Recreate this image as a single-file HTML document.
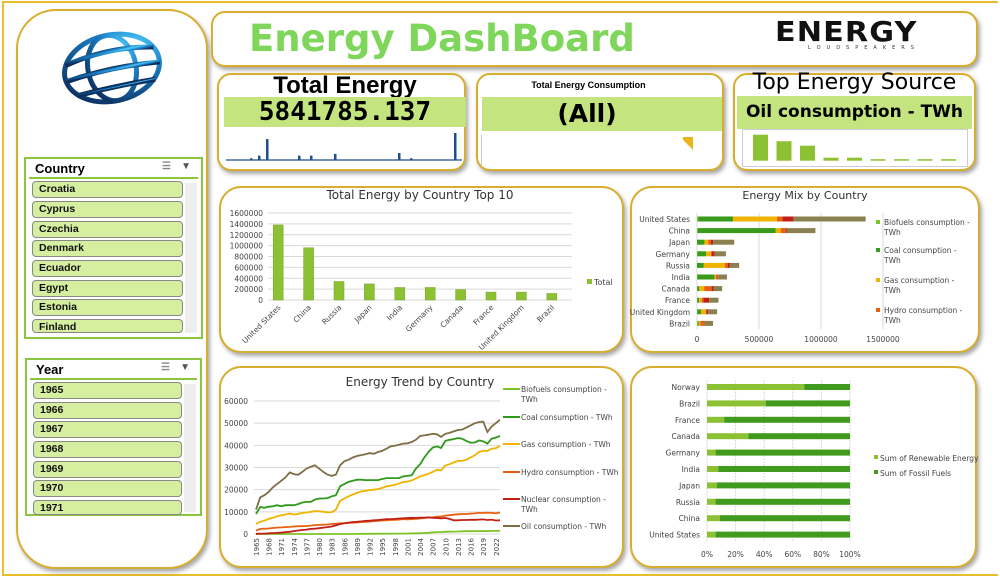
<!DOCTYPE html>
<html><head><meta charset="utf-8">
<style>
*{box-sizing:border-box;margin:0;padding:0}
body{width:1000px;height:577px;overflow:hidden;background:#fff;font-family:"Liberation Sans","DejaVu Sans",sans-serif;position:relative}
.frame{position:absolute;left:2px;top:1px;width:996px;height:575px;border:2px solid #e8be2a;border-right:none}
.box{position:absolute;border:2px solid #d9ad2e;background:#fff;box-shadow:2px 3px 4px rgba(0,0,0,.35)}
.slicer{position:absolute;border:2px solid #8cc63f;background:#fff}
.sl-head{font:bold 13px "Liberation Sans",sans-serif;padding:2px 6px;border-bottom:2px solid #8cc63f;margin:0 3px;height:20px}
.item{position:absolute;left:6px;width:151px;height:17px;background:#d6eea0;border:1.5px solid #888;border-radius:4px;font:bold 10.5px "Liberation Sans",sans-serif;padding:1px 6px;color:#111}
.scroll{position:absolute;right:4px;top:24px;width:12px;background:#eee}
.gbar{position:absolute;background:#c3e47e}
#ch{position:absolute;left:0;top:0}
</style></head><body>
<div class="frame"></div>

<div class="box" style="left:16px;top:9px;width:192px;height:560px;border-radius:40px"></div>
<svg style="position:absolute;left:55px;top:28px" width="115" height="82">
<defs><radialGradient id="gg" cx="0.75" cy="0.25" r="0.9"><stop offset="0" stop-color="#4fd0ff"/><stop offset="0.5" stop-color="#1a7ac0"/><stop offset="1" stop-color="#0c2f5e"/></radialGradient></defs>
<g fill="none" stroke="url(#gg)" stroke-width="5" transform="rotate(-12 57 40)">
<ellipse cx="57" cy="40" rx="48" ry="33"/>
<ellipse cx="57" cy="40" rx="24" ry="33"/>
<line x1="57" y1="7" x2="57" y2="73"/>
<path d="M12 28 Q57 18 102 28"/><path d="M9 44 Q57 38 105 44"/><path d="M17 60 Q57 58 97 60"/>
</g></svg>

<div class="slicer" style="left:24px;top:157px;width:179px;height:182px">
<div class="sl-head">Country<span style="position:absolute;right:30px;color:#888;font-size:10px">☰</span><span style="position:absolute;right:10px;color:#555;font-size:10px">▼</span></div>
<div class="item" style="top:22px">Croatia</div>
<div class="item" style="top:42px">Cyprus</div>
<div class="item" style="top:62px">Czechia</div>
<div class="item" style="top:81px">Denmark</div>
<div class="item" style="top:101px">Ecuador</div>
<div class="item" style="top:121px">Egypt</div>
<div class="item" style="top:140px">Estonia</div>
<div class="item" style="top:160px;height:14px">Finland</div>
<div class="scroll" style="height:150px"></div>
</div>

<div class="slicer" style="left:25px;top:358px;width:177px;height:158px">
<div class="sl-head">Year<span style="position:absolute;right:30px;color:#888;font-size:10px">☰</span><span style="position:absolute;right:10px;color:#555;font-size:10px">▼</span></div>
<div class="item" style="top:22px;width:149px">1965</div>
<div class="item" style="top:42px;width:149px">1966</div>
<div class="item" style="top:61px;width:149px">1967</div>
<div class="item" style="top:81px;width:149px">1968</div>
<div class="item" style="top:101px;width:149px">1969</div>
<div class="item" style="top:120px;width:149px">1970</div>
<div class="item" style="top:140px;width:149px;height:15px">1971</div>
<div class="scroll" style="height:128px"></div>
</div>

<div class="box" style="left:211px;top:11px;width:767px;height:56px;border-radius:14px"></div>
<div style="position:absolute;left:249px;top:17px;font:bold 37px 'DejaVu Sans',sans-serif;color:#7ed65a">Energy DashBoard</div>
<div style="position:absolute;left:775px;top:15px;font:900 28px 'DejaVu Sans',sans-serif;color:#111;letter-spacing:1px;transform:scaleX(1.08);transform-origin:left">ENERGY</div>
<div style="position:absolute;left:808px;top:45px;font:5px 'DejaVu Sans',sans-serif;color:#333;letter-spacing:6px">LOUDSPEAKERS</div>

<div class="box" style="left:217px;top:73px;width:249px;height:98px;border-radius:14px"></div>
<div style="position:absolute;left:217px;top:72px;width:256px;text-align:center;font:bold 24px 'Liberation Sans',sans-serif">Total Energy</div>
<div class="gbar" style="left:224px;top:97px;width:242px;height:30px;text-align:center;font:bold 26px 'DejaVu Sans Mono','Liberation Mono',monospace;line-height:31px">5841785.137</div>

<div class="box" style="left:476px;top:73px;width:248px;height:98px;border-radius:14px"></div>
<div style="position:absolute;left:476px;top:80px;width:225px;text-align:center;font:bold 9px 'Liberation Sans',sans-serif">Total Energy Consumption</div>
<div class="gbar" style="left:482px;top:97px;width:240px;height:34px;text-align:center;font:bold 25px 'DejaVu Sans',sans-serif;line-height:34px;padding-right:30px">(All)</div>
<div style="position:absolute;left:481px;top:135px;width:1px;height:30px;background:#ccc"></div>
<div style="position:absolute;left:683px;top:137px;width:10px;height:16px;background:linear-gradient(45deg,#fff 50%,#e8b51a 50%)"></div>

<div class="box" style="left:733px;top:73px;width:243px;height:98px;border-radius:14px"></div>
<div style="position:absolute;left:733px;top:70px;width:243px;text-align:center;font:22px 'DejaVu Sans',sans-serif">Top Energy Source</div>
<div class="gbar" style="left:737px;top:96px;width:235px;height:33px;text-align:center;font:bold 17px 'DejaVu Sans',sans-serif;line-height:33px">Oil consumption - TWh</div>
<div style="position:absolute;left:742px;top:129px;width:226px;height:38px;border:1px solid #ccd"></div>

<div class="box" style="left:219px;top:186px;width:405px;height:167px;border-radius:22px"></div>
<div class="box" style="left:630px;top:186px;width:350px;height:167px;border-radius:22px"></div>
<div class="box" style="left:219px;top:366px;width:405px;height:202px;border-radius:22px"></div>
<div class="box" style="left:630px;top:366px;width:347px;height:202px;border-radius:22px"></div>

<svg id="ch" width="1000" height="577"></svg>

<script>
// ---- data ----
const sparkValues=[0,0,0,0,0,0,2,0,5,0,24,0,0,0,0,0,0,0,5,0,0,5,0,0,0,0,0,7,0,0,0,0,0,0,0,0,0,0,0,0,0,0,0,8,0,0,2,0,0,0,0,0,0,0,0,0,0,31,0,0];
const topSourceValues=[26,19.5,15,3,3,1.5,1.5,1.5,1.5];
const top10Countries=["United States","China","Russia","Japan","India","Germany","Canada","France","United Kingdom","Brazil"];
const top10Totals=[1380000,960000,340000,295000,230000,230000,190000,145000,145000,120000];
const top10Ticks=[0,200000,400000,600000,800000,1000000,1200000,1400000,1600000];
const mixCountries=["United States","China","Japan","Germany","Russia","India","Canada","France","United Kingdom","Brazil"];
const mixBiofuels=[10000,5000,0,3000,0,2000,3000,3000,2000,12000];
const mixCoal=[280000,630000,60000,70000,55000,140000,15000,15000,30000,5000];
const mixGas=[355000,40000,30000,40000,170000,10000,40000,20000,40000,10000];
const mixHydro=[45000,40000,20000,5000,25000,15000,60000,15000,3000,35000];
const mixNuclear=[90000,10000,20000,25000,15000,5000,15000,45000,15000,2000];
const mixOil=[580000,230000,170000,90000,75000,70000,70000,75000,72000,65000];
const mixTicks=[0,500000,1000000,1500000];
const trendYears=[];for(let y=1965;y<=2023;y++)trendYears.push(y);
const trendOil=[11000,16500,17500,19000,21000,22500,24000,25500,27800,27000,26700,28000,29500,30300,31000,29500,28000,26800,26200,26800,31000,32800,33500,34500,35200,35600,36000,36500,36200,37000,37500,38500,39500,39800,40300,40800,40900,41500,42500,44200,44500,44800,45200,45000,43800,45200,45600,46300,46900,47100,48000,49000,50000,50500,50700,46000,48500,50000,51500];
const trendCoal=[9000,12200,11800,12300,12500,13000,12500,13000,13000,13000,13500,14200,14500,14500,15500,16000,16000,16200,17000,17500,21500,22500,23500,24000,24500,24500,24300,24300,24300,24300,24800,25200,25200,25200,25200,26000,26200,26500,29500,31500,34500,37000,39000,39500,38800,42000,42500,42800,43300,43000,42000,41200,41300,42200,41800,40800,43000,43500,44200];
const trendGas=[4500,5500,6000,6800,7300,8000,8500,8800,9200,8800,9000,9500,9700,10000,10300,10300,10000,9800,9900,11000,15000,16000,17000,17800,18500,19200,19500,19800,20000,20300,20800,21500,21800,22200,22800,23500,23600,24200,25000,26000,26500,27200,28000,29000,28700,30800,31500,32300,33000,33000,33500,34500,35500,37000,37500,37500,38500,38700,39800];
const trendHydro=[1500,2300,2400,2500,2700,2900,3000,3100,3200,3400,3500,3500,3600,3800,4000,4100,4200,4300,4500,4600,4800,4900,5000,5100,5200,5400,5500,5600,5800,5900,6100,6200,6300,6400,6500,6700,6600,6700,6800,7000,7200,7400,7500,7800,7900,8300,8500,8700,8900,9000,9000,9200,9300,9500,9500,9600,9500,9300,9700];
const trendNuclear=[100,150,200,300,400,500,600,800,1000,1300,1600,1800,2000,2300,2400,2600,2900,3100,3400,3900,4500,4800,5100,5400,5500,5700,5900,6000,6200,6300,6500,6700,6700,6800,7000,7100,7200,7300,7200,7400,7400,7500,7300,7200,7100,7200,6800,6200,6200,6300,6300,6400,6400,6500,6600,6300,6500,6100,6200];
const trendBiofuels=[0,0,0,0,0,0,0,0,0,0,0,0,0,0,0,0,0,0,0,0,0,0,0,0,50,80,90,100,110,120,130,140,150,160,170,200,230,280,330,380,450,550,700,850,900,1000,1050,1100,1150,1200,1250,1250,1300,1300,1350,1250,1350,1400,1450];
const trendTicks=[0,10000,20000,30000,40000,50000,60000];
const renCountries=["Norway","Brazil","France","Canada","Germany","India","Japan","Russia","China","United States"];
const renShare=[68,41,12,29,6,8,7,6,9,6];
const renTicks=["0%","20%","40%","60%","80%","100%"];

// ---- helpers ----
const S=document.getElementById('ch');const NS='http://www.w3.org/2000/svg';
function mk(tag,at,parent){const e=document.createElementNS(NS,tag);for(const k in at)e.setAttribute(k,at[k]);(parent||S).appendChild(e);return e;}
function txt(x,y,s,at){const e=mk('text',Object.assign({x:x,y:y,'font-family':'DejaVu Sans, sans-serif','font-size':8,fill:'#444'},at||{}));e.textContent=s;return e;}

// sparkline
{const g=mk('g',{});
const base=160,mx=Math.max(...sparkValues);
mk('line',{x1:226,x2:462,y1:base,y2:base,stroke:'#1f4e8a','stroke-width':1.2},g);
sparkValues.forEach((v,i)=>{if(!v)return;const h=v/mx*27;const r=mk('rect',{x:226+i*4,y:base-h,width:2.5,height:h,fill:'#1f4e8a'},g);});}

// top source mini bars
{const g=mk('g',{});
topSourceValues.forEach((v,i)=>{const r=mk('rect',{x:753+i*23.5,y:160.7-v,width:15,height:v,fill:'#8dc134'},g);});}

// chart 1 top 10
{const g=mk('g',{});
const x0=268,x1=572,y0=300,yT=213,max=1600000;const Y=v=>y0-(v/max)*(y0-yT);
const t=txt(420,199,'Total Energy by Country Top 10',{'font-size':12,'text-anchor':'middle',fill:'#333'},g);
top10Ticks.forEach(v=>{mk('line',{x1:x0,x2:x1,y1:Y(v),y2:Y(v),stroke:'#d9d9d9','stroke-width':1},g);const l=txt(263,Y(v)+3,String(v),{'text-anchor':'end','font-size':7.5},g);});
const bw=(x1-x0)/top10Countries.length;
top10Countries.forEach((c,i)=>{const cx=x0+bw*(i+0.5)-5;const v=top10Totals[i];const r=mk('rect',{x:cx-5,y:Y(v),width:10,height:y0-Y(v),fill:'#8dc134',stroke:'#6fa323','stroke-width':0.5},g);
const l=txt(cx+3,y0+8,c,{'text-anchor':'end','font-size':7.5,transform:`rotate(-45 ${cx+3} ${y0+8})`},g);});
mk('rect',{x:587,y:279,width:5,height:5,fill:'#8dc134'},g);const lg=txt(594,285,'Total',{'font-size':8},g);}

// chart 2 energy mix
{const g=mk('g',{});
const x0=697,per=62/500000;const X=v=>x0+v*per;
const t=txt(805,199,'Energy Mix by Country',{'font-size':11,'text-anchor':'middle',fill:'#333'},g);
mixTicks.forEach(v=>{mk('line',{x1:X(v),x2:X(v),y1:213,y2:329,stroke:'#d9d9d9'},g);const l=txt(X(v),342,String(v),{'text-anchor':'middle','font-size':7.5},g);});
const series=[mixBiofuels,mixCoal,mixGas,mixHydro,mixNuclear,mixOil];const cols=['#7cc424','#3a9a1a','#f0b400','#e86010','#c02018','#8a8050'];
mixCountries.forEach((c,i)=>{const y=219+i*11.6;let acc=0;series.forEach((s,k)=>{const v=s[i];const r=mk('rect',{x:X(acc),y:y-2.5,width:v*per,height:5,fill:cols[k]},g);acc+=v;});
const l=txt(690,y+3,c,{'text-anchor':'end','font-size':7.5},g);});
const lgs=[['Biofuels consumption -','TWh',225],['Coal consumption -','TWh',253],['Gas consumption -','TWh',283],['Hydro consumption -','TWh',313]];
lgs.forEach((L,k)=>{mk('rect',{x:876,y:L[2]-5,width:4,height:4,fill:cols[k]},g);const a=txt(884,L[2],L[0],{'font-size':7.5},g);if(L[1])txt(884,L[2]+10,L[1],{'font-size':7.5},g);});}

// chart 3 trend
{const g=mk('g',{});
const x0=256,x1=500,y0=534,yT=401,max=60000;const X=i=>x0+i*(x1-x0)/(trendYears.length-1);const Y=v=>y0-(v/max)*(y0-yT);
const t=txt(420,386,'Energy Trend by Country',{'font-size':12,'text-anchor':'middle',fill:'#333'},g);
trendTicks.forEach(v=>{mk('line',{x1:x0-2,x2:x1,y1:Y(v),y2:Y(v),stroke:'#d9d9d9'},g);const l=txt(248,Y(v)+3,String(v),{'text-anchor':'end','font-size':7.5},g);});
trendYears.forEach((y,i)=>{if((y-1965)%3)return;const x=X(i)+3;const l=txt(x,538,String(y),{'text-anchor':'end','font-size':7,transform:`rotate(-90 ${x} 538)`},g);});
const ser=[[trendBiofuels,'#7cc424','Biofuels consumption -','TWh',392],[trendCoal,'#2e9a1a','Coal consumption - TWh','',420],[trendGas,'#f0b400','Gas consumption - TWh','',447],[trendHydro,'#e86010','Hydro consumption - TWh','',475],[trendNuclear,'#c02018','Nuclear consumption -','TWh',502],[trendOil,'#7d6e45','Oil consumption - TWh','',529]];
ser.forEach(s=>{const p=mk('polyline',{points:s[0].map((v,i)=>X(i).toFixed(1)+','+Y(v).toFixed(1)).join(' '),fill:'none',stroke:s[1],'stroke-width':1.8},g);
mk('line',{x1:503,x2:520,y1:s[4]-3,y2:s[4]-3,stroke:s[1],'stroke-width':2},g);const a=txt(521,s[4],s[2],{'font-size':7.5},g);if(s[3])txt(521,s[4]+10,s[3],{'font-size':7.5},g);});}

// chart 4 renewable share
{const g=mk('g',{});
const x0=707,x1=850;const X=p=>x0+p/100*(x1-x0);
renTicks.forEach((s,k)=>{const x=X(k*20);mk('line',{x1:x,x2:x,y1:380,y2:542,stroke:'#d9d9d9','stroke-dasharray':'2,1'},g);const l=txt(x,557,s,{'text-anchor':'middle','font-size':7.5},g);});
renCountries.forEach((c,i)=>{const y=387+i*16.4;const v=renShare[i];
const a=mk('rect',{x:x0,y:y-3,width:X(v)-x0,height:6,fill:'#8dc134'},g);
const b=mk('rect',{x:X(v),y:y-3,width:x1-X(v),height:6,fill:'#3f9a1e'},g);
const l=txt(700,y+3,c,{'text-anchor':'end','font-size':7.5},g);});
mk('rect',{x:874,y:455,width:4,height:4,fill:'#8dc134'},g);const l1=txt(880,461,'Sum of Renewable Energy',{'font-size':7.5},g);
mk('rect',{x:874,y:470,width:4,height:4,fill:'#3f9a1e'},g);const l2=txt(880,476,'Sum of Fossil Fuels',{'font-size':7.5},g);}
</script>
</body></html>
